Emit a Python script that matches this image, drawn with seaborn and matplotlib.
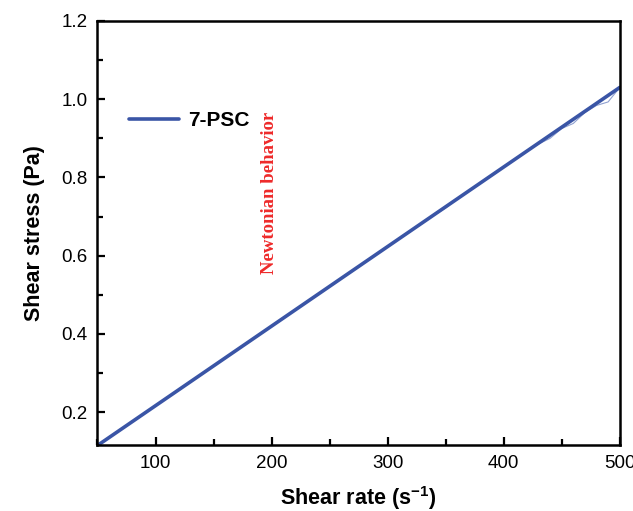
import numpy as np
import pandas as pd
import matplotlib
matplotlib.use("Agg")
import matplotlib.pyplot as plt
import seaborn as sns
from matplotlib.ticker import MultipleLocator

# measured data (thin line) and the straight Newtonian line (thick)
shear_rate = [50, 75, 100, 125, 150, 175, 200, 225, 250, 275, 300, 325, 350,
              360, 375, 385, 400, 425, 440, 450, 460, 470, 480, 490, 500]
shear_stress = [0.116, 0.166, 0.217, 0.268, 0.319, 0.370, 0.421, 0.471, 0.522,
                0.573, 0.624, 0.675, 0.722, 0.745, 0.775, 0.798, 0.827, 0.878,
                0.900, 0.925, 0.938, 0.966, 0.984, 0.993, 1.030]
fit_rate = [50, 500]
fit_stress = [0.115, 1.030]

series_name = "7-PSC"
note = "Newtonian behavior"

sns.set_style("ticks")
plt.rcParams['font.family'] = ['Liberation Sans', 'DejaVu Sans']
plt.rcParams['text.color'] = 'black'
plt.rcParams['axes.labelcolor'] = 'black'
plt.rcParams['xtick.color'] = 'black'
plt.rcParams['ytick.color'] = 'black'
plt.rcParams['mathtext.fontset'] = 'custom'
plt.rcParams['mathtext.rm'] = 'Liberation Sans'
plt.rcParams['mathtext.bf'] = 'Liberation Sans:bold'

df = pd.DataFrame({"rate": shear_rate, "stress": shear_stress})
fit = pd.DataFrame({"rate": fit_rate, "stress": fit_stress})

fig = plt.figure(figsize=(6.33, 5.11), dpi=100)
ax = fig.add_axes([0.154, 0.129, 0.825, 0.830])

blue = "#3a55a6"
sns.lineplot(data=df, x="rate", y="stress", ax=ax, color="#8fa0d0", lw=0.8)
sns.lineplot(data=fit, x="rate", y="stress", ax=ax, color=blue, lw=2.6, label=series_name)

ax.set_xlim(50, 500)
ax.set_ylim(0.116, 1.2)
ax.xaxis.set_major_locator(MultipleLocator(100))
ax.xaxis.set_minor_locator(MultipleLocator(50))
ax.yaxis.set_major_locator(MultipleLocator(0.2))
ax.yaxis.set_minor_locator(MultipleLocator(0.1))
ax.tick_params(which="major", direction="in", length=6, width=1.6, labelsize=13.5, pad=7)
ax.tick_params(which="minor", direction="in", length=4, width=1.6)
for s in ax.spines.values():
    s.set_linewidth(1.8)
    s.set_color("black")

ax.set_xlabel("Shear rate (s$^{\\mathbf{-1}}$)", fontsize=15.5, fontweight="bold", labelpad=9)
ax.set_ylabel("Shear stress (Pa)", fontsize=15.5, fontweight="bold", labelpad=12)

leg = ax.legend(loc="center left", bbox_to_anchor=(0.045, 0.765), frameon=False,
                prop={"weight": "bold", "size": 15}, handlelength=2.4,
                handletextpad=0.4, borderaxespad=0)

ax.text(0.33, 0.595, note, transform=ax.transAxes, rotation=90, color="#ee2a2a",
        fontsize=13.5, fontweight="bold", family=["Liberation Serif", "DejaVu Serif"],
        ha="center", va="center")

fig.savefig("out.png", dpi=100)
